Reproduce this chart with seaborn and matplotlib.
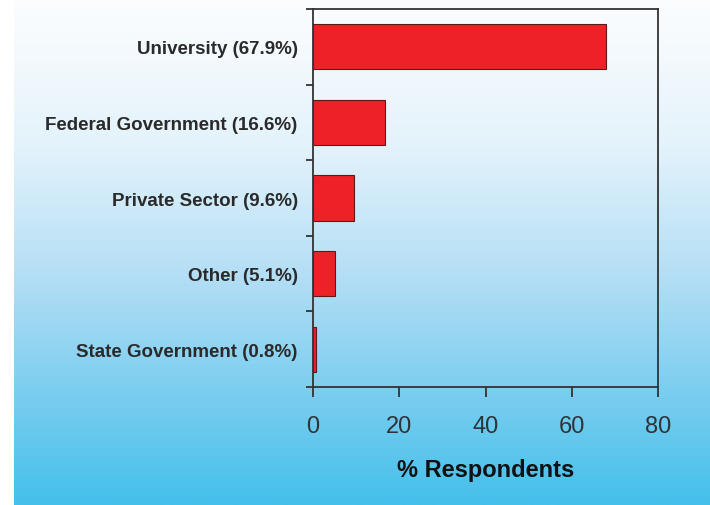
import numpy as np
import pandas as pd
import matplotlib
matplotlib.use("Agg")
import matplotlib.pyplot as plt
from matplotlib.colors import LinearSegmentedColormap
import seaborn as sns

categories = ["University (67.9%)", "Federal Government (16.6%)", "Private Sector (9.6%)",
              "Other (5.1%)", "State Government (0.8%)"]
values = [67.9, 16.6, 9.6, 5.1, 0.8]
xticks = [0, 20, 40, 60, 80]

sns.set_theme(style="white")
plt.rcParams['font.family'] = ['Liberation Sans', 'DejaVu Sans']

W, H = 710, 506
fig = plt.figure(figsize=(W / 100, H / 100), dpi=100)
fig.patch.set_facecolor("white")

# background gradient
bg = fig.add_axes([14 / W, 0, 1 - 14 / W, 1], zorder=-10)
cmap = LinearSegmentedColormap.from_list(
    "bg", [(0.0, "#fbfdff"), (0.12, "#f3f9fd"), (0.3, "#e2f2fb"), (0.55, "#b3def5"),
           (0.79, "#78cdef"), (1.0, "#44c0eb")])
grad = np.linspace(0, 1, 256).reshape(-1, 1)
bg.imshow(grad, aspect="auto", cmap=cmap, extent=[0, 1, 1, 0])
bg.axis("off")

ax = fig.add_axes([313 / W, (H - 388) / H, (658 - 313) / W, (388 - 10) / H])
ax.patch.set_alpha(0)

df = pd.DataFrame({"cat": categories, "val": values})
sns.barplot(data=df, x="val", y="cat", orient="h", color="#ee2226", saturation=1,
            width=0.6, edgecolor="#5a1a1a", linewidth=0.8, ax=ax)

ax.set_xlim(0, 80)
ax.set_ylim(4.5, -0.5)
ax.set_xticks(xticks)
ax.set_xticklabels([str(t) for t in xticks], fontsize=17, color="#2e3338")
ax.tick_params(axis="x", direction="out", length=7, width=1.3, color="#333333", pad=13, bottom=True)
ax.set_yticks(range(len(categories)))
ax.set_yticklabels(categories, fontsize=13.5, fontweight="bold", color="#2a2a2a")
ax.tick_params(axis="y", which="major", length=0, pad=11)
ax.set_yticks([-0.5, 0.5, 1.5, 2.5, 3.5, 4.5], minor=True)
ax.tick_params(axis="y", which="minor", direction="out", length=5, width=1.3, color="#333333", left=True)

for s in ax.spines.values():
    s.set_visible(True)
    s.set_color("#333333")
    s.set_linewidth(1.3)

ax.set_ylabel("")
ax.set_xlabel("% Respondents", fontsize=17, fontweight="bold", color="#111111", labelpad=15)
ax.grid(False)

fig.savefig("out.png", dpi=100)
